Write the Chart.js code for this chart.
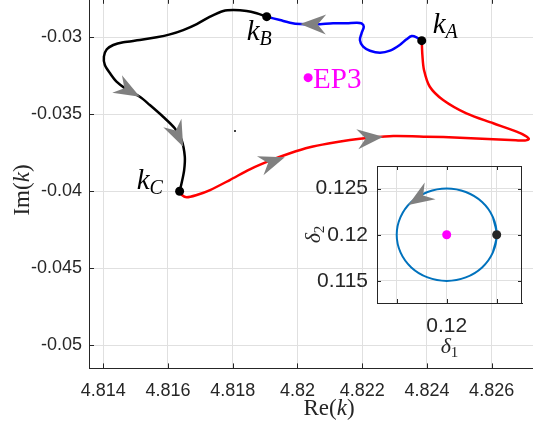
<!DOCTYPE html>
<html>
<head>
<meta charset="utf-8">
<script src="https://cdn.jsdelivr.net/npm/chart.js@4.4.1/dist/chart.umd.min.js"></script>
<style>
  html, body { margin: 0; padding: 0; background: #fff; overflow: hidden; width: 533px; height: 427px; }
  #main { position: absolute; left: 0; top: -10px; }
  #inset { position: absolute; left: 290px; top: 150px; }
</style>
</head>
<body>
<canvas id="main" width="600" height="440" style="width:600px;height:440px"></canvas>
<canvas id="inset" width="243" height="230" style="width:243px;height:230px"></canvas>
<script>
// ---- main axes: Re(k) / Im(k) ----
const reTicks = [4.814, 4.816, 4.818, 4.82, 4.822, 4.824, 4.826];
const reTickLabels = ['4.814', '4.816', '4.818', '4.82', '4.822', '4.824', '4.826'];
const imTicks = [-0.05, -0.045, -0.04, -0.035, -0.03];
const imTickLabels = ['-0.05', '-0.045', '-0.04', '-0.035', '-0.03'];

// marked eigenvalues
const kA = [4.82384, -0.03022];
const kB = [4.81905, -0.02866];
const kC = [4.81636, -0.04000];
const ep3 = [4.82033, -0.03262];
const strayMark = [4.81807, -0.03608];

// trajectory kA -> kB (blue)
const pathAB = [
  [4.82384, -0.03022], [4.82368, -0.03000], [4.82353, -0.02992], [4.82337, -0.03013],
  [4.82316, -0.03050], [4.82286, -0.03087], [4.82255, -0.03100], [4.82224, -0.03087],
  [4.82203, -0.03061], [4.82193, -0.03018], [4.82198, -0.02974], [4.82205, -0.02931],
  [4.82198, -0.02909], [4.82183, -0.02905], [4.82152, -0.02909], [4.82110, -0.02909],
  [4.82059, -0.02916], [4.82008, -0.02914], [4.81977, -0.02905], [4.81946, -0.02888],
  [4.81905, -0.02866]
];
// trajectory kB -> kC (black)
const pathBC = [
  [4.81905, -0.02866], [4.81874, -0.02844], [4.81843, -0.02829], [4.81802, -0.02823],
  [4.81771, -0.02829], [4.81730, -0.02866], [4.81689, -0.02914], [4.81647, -0.02953],
  [4.81606, -0.02981], [4.81565, -0.03000], [4.81513, -0.03018], [4.81462, -0.03032],
  [4.81431, -0.03050], [4.81411, -0.03078], [4.81402, -0.03126], [4.81405, -0.03180],
  [4.81421, -0.03234], [4.81441, -0.03288], [4.81472, -0.03338], [4.81513, -0.03386],
  [4.81544, -0.03440], [4.81585, -0.03516], [4.81621, -0.03591], [4.81642, -0.03667],
  [4.81652, -0.03775], [4.81650, -0.03862], [4.81642, -0.03948], [4.81636, -0.04000]
];
// trajectory kC -> kA (red)
const pathCA = [
  [4.81636, -0.04000], [4.81643, -0.04024], [4.81658, -0.04039], [4.81689, -0.04024],
  [4.81730, -0.03992], [4.81791, -0.03927], [4.81853, -0.03857], [4.81915, -0.03801],
  [4.81977, -0.03753], [4.82038, -0.03714], [4.82100, -0.03688], [4.82162, -0.03667],
  [4.82224, -0.03652], [4.82296, -0.03641], [4.82399, -0.03645], [4.82502, -0.03652],
  [4.82605, -0.03662], [4.82675, -0.03669], [4.82703, -0.03670], [4.82715, -0.03659],
  [4.82703, -0.03638], [4.82677, -0.03613], [4.82605, -0.03558], [4.82522, -0.03494],
  [4.82450, -0.03407], [4.82409, -0.03321], [4.82391, -0.03212], [4.82386, -0.03115],
  [4.82384, -0.03022]
];
// direction markers along the trajectory: head position and a point behind it
const arrowMarks = [
  { at: [4.82008, -0.02914], from: [4.82059, -0.02916] },
  { at: [4.81513, -0.03386], from: [4.81472, -0.03338] },
  { at: [4.81647, -0.03710], from: [4.81621, -0.03591] },
  { at: [4.81961, -0.03779], from: [4.81853, -0.03857] },
  { at: [4.82265, -0.03645], from: [4.82162, -0.03667] }
];

// ---- inset: parameter loop in (delta1, delta2) ----
const d1Ticks = [0.115, 0.12, 0.125];
const d1TickLabels = ['', '0.12', ''];
const d2Ticks = [0.115, 0.12, 0.125];
const d2TickLabels = ['0.115', '0.12', '0.125'];
const loopPath = [
  [0.12462, 0.11809], [0.12500, 0.12000], [0.12462, 0.12191], [0.12354, 0.12354],
  [0.12191, 0.12462], [0.12000, 0.12500], [0.11809, 0.12462], [0.11646, 0.12354],
  [0.11538, 0.12191], [0.11500, 0.12000], [0.11538, 0.11809], [0.11646, 0.11646],
  [0.11809, 0.11538], [0.12000, 0.11500], [0.12191, 0.11538], [0.12354, 0.11646],
  [0.12462, 0.11809], [0.12500, 0.12000], [0.12462, 0.12191]
];
const loopStart = [0.125, 0.12];
const loopCentre = [0.12, 0.12];
const loopArrow = { at: [0.11616, 0.12321], from: [0.11833, 0.12473] };

const toXY = arr => arr.map(p => ({ x: p[0], y: p[1] }));
const INK = '#262626';
const GRID = '#e0e0e0';
const SANS = '"Liberation Sans", Arial, sans-serif';
const SERIF = '"Liberation Serif", "Times New Roman", serif';

function arrowHead(ctx, tx, ty, fx, fy, len, half, notch, color) {
  const dx = tx - fx, dy = ty - fy;
  const n = Math.hypot(dx, dy) || 1;
  const ux = dx / n, uy = dy / n, px = -uy, py = ux;
  const bx = tx - ux * len, by = ty - uy * len;
  ctx.beginPath();
  ctx.moveTo(tx, ty);
  ctx.lineTo(bx + px * half, by + py * half);
  ctx.lineTo(tx - ux * len * notch, ty - uy * len * notch);
  ctx.lineTo(bx - px * half, by - py * half);
  ctx.closePath();
  ctx.fillStyle = color;
  ctx.fill();
}

// text made of roman / italic pieces, each piece: [text, italic, sizeScale, baselineShift]
function mixedWidth(ctx, parts, size) {
  let w = 0;
  parts.forEach(p => {
    ctx.font = (p[1] ? 'italic ' : '') + Math.round(size * (p[2] || 1)) + 'px ' + SERIF;
    w += ctx.measureText(p[0]).width;
  });
  return w;
}
function drawMixed(ctx, parts, x, y, size, color) {
  ctx.fillStyle = color;
  ctx.textAlign = 'left';
  ctx.textBaseline = 'alphabetic';
  let cx = x;
  parts.forEach(p => {
    ctx.font = (p[1] ? 'italic ' : '') + Math.round(size * (p[2] || 1)) + 'px ' + SERIF;
    ctx.fillText(p[0], cx, y + (p[3] || 0));
    cx += ctx.measureText(p[0]).width;
  });
}

function squareAxes(scale, w, h) {
  if (w !== undefined) scale.width = w;
  if (h !== undefined) scale.height = h;
  scale.paddingLeft = 0; scale.paddingRight = 0; scale.paddingTop = 0; scale.paddingBottom = 0;
}

function boxAndTicks(ctx, area, xs, ys, xt, yt, len) {
  const { left, right, top, bottom } = area;
  ctx.strokeStyle = INK;
  ctx.lineWidth = 1;
  ctx.beginPath();
  ctx.moveTo(left, Math.round(top) + 0.5); ctx.lineTo(right, Math.round(top) + 0.5);
  ctx.moveTo(Math.round(right) - 0.5, top); ctx.lineTo(Math.round(right) - 0.5, bottom);
  xt.forEach(v => {
    const p = Math.round(xs.getPixelForValue(v)) + 0.5;
    ctx.moveTo(p, bottom); ctx.lineTo(p, bottom - len);
    ctx.moveTo(p, top); ctx.lineTo(p, top + len);
  });
  yt.forEach(v => {
    const p = Math.round(ys.getPixelForValue(v)) + 0.5;
    ctx.moveTo(left, p); ctx.lineTo(left + len, p);
    ctx.moveTo(right, p); ctx.lineTo(right - len, p);
  });
  ctx.stroke();
}

const mainDecor = {
  id: 'mainDecor',
  afterDatasetsDraw(chart) {
    const { ctx, scales: { x, y } } = chart;
    ctx.save();
    arrowMarks.forEach(a => arrowHead(ctx,
      x.getPixelForValue(a.at[0]), y.getPixelForValue(a.at[1]),
      x.getPixelForValue(a.from[0]), y.getPixelForValue(a.from[1]),
      26, 10, 0.68, '#808080'));
    ctx.restore();
  },
  afterDraw(chart) {
    const { ctx, chartArea, scales: { x, y } } = chart;
    ctx.save();
    boxAndTicks(ctx, chartArea, x, y, reTicks, imTicks, 5);

    // point names
    const names = [
      { at: kA, sub: 'A', dx: 11, dy: -8 },
      { at: kB, sub: 'B', dx: -20, dy: 23 },
      { at: kC, sub: 'C', dx: -43, dy: -2 }
    ];
    names.forEach(n => {
      const px = x.getPixelForValue(n.at[0]) + n.dx;
      const py = y.getPixelForValue(n.at[1]) + n.dy;
      drawMixed(ctx, [['k', true, 1, 0], [n.sub, true, 0.68, 5]], px, py, 29, '#000');
    });
    const ex = x.getPixelForValue(ep3[0]) + 5;
    const ey = y.getPixelForValue(ep3[1]) + 10;
    drawMixed(ctx, [['EP3', false, 1, 0]], ex, ey, 29, '#ff00ff');

    // axis titles
    const reParts = [['Re(', false], ['k', true], [')', false]];
    const rw = mixedWidth(ctx, reParts, 23);
    drawMixed(ctx, reParts, 329 - rw / 2, 425, 23, INK);
    const imParts = [['Im(', false], ['k', true], [')', false]];
    const iw = mixedWidth(ctx, imParts, 23);
    ctx.translate(29, 200);
    ctx.rotate(-Math.PI / 2);
    drawMixed(ctx, imParts, -iw / 2, 0, 23, INK);
    ctx.restore();
  }
};

new Chart(document.getElementById('main'), {
  type: 'scatter',
  data: {
    datasets: [
      { data: toXY([kA, kB, kC]), pointRadius: 4.5, pointBackgroundColor: '#000', pointBorderWidth: 0, showLine: false, order: 0 },
      { data: toXY([ep3]), pointRadius: 4.5, pointBackgroundColor: '#ff00ff', pointBorderWidth: 0, showLine: false, order: 0 },
      { data: toXY([strayMark]), pointRadius: 1, pointBackgroundColor: '#000', pointBorderWidth: 0, showLine: false, order: 0 },
      { data: toXY(pathAB), showLine: true, borderColor: '#0000ff', borderWidth: 2.5, pointRadius: 0, tension: 0.3, order: 2 },
      { data: toXY(pathBC), showLine: true, borderColor: '#000000', borderWidth: 2.5, pointRadius: 0, tension: 0.3, order: 2 },
      { data: toXY(pathCA), showLine: true, borderColor: '#ff0000', borderWidth: 2.5, pointRadius: 0, tension: 0.3, order: 2 }
    ]
  },
  options: {
    responsive: false,
    animation: false,
    events: [],
    layout: { padding: { left: 0, top: 8.8, right: 31, bottom: 0 }, autoPadding: false },
    plugins: { legend: { display: false }, tooltip: { enabled: false } },
    scales: {
      x: {
        type: 'linear', min: 4.81356, max: 4.82839,
        grid: { color: GRID, lineWidth: 1, drawTicks: false },
        border: { display: true, color: INK, width: 1 },
        ticks: {
          font: { family: SANS, size: 18 }, color: INK, padding: 12, maxRotation: 0, autoSkip: false,
          callback: (v, i) => reTickLabels[i]
        },
        afterBuildTicks: s => { s.ticks = reTicks.map(v => ({ value: v })); },
        afterFit: s => squareAxes(s, undefined, 61.6)
      },
      y: {
        type: 'linear', min: -0.0515, max: -0.0275,
        grid: { color: GRID, lineWidth: 1, drawTicks: false },
        border: { display: true, color: INK, width: 1 },
        ticks: {
          font: { family: SANS, size: 18 }, color: INK, padding: 7, autoSkip: false,
          callback: (v, i) => imTickLabels[i]
        },
        afterBuildTicks: s => { s.ticks = imTicks.map(v => ({ value: v })); },
        afterFit: s => squareAxes(s, 89, undefined)
      }
    }
  },
  plugins: [mainDecor]
});

const insetDecor = {
  id: 'insetDecor',
  afterDatasetsDraw(chart) {
    const { ctx, scales: { x, y } } = chart;
    ctx.save();
    arrowHead(ctx,
      x.getPixelForValue(loopArrow.at[0]), y.getPixelForValue(loopArrow.at[1]),
      x.getPixelForValue(loopArrow.from[0]), y.getPixelForValue(loopArrow.from[1]),
      26, 10, 0.68, '#808080');
    ctx.restore();
  },
  afterDraw(chart) {
    const { ctx, chartArea, scales: { x, y } } = chart;
    ctx.save();
    boxAndTicks(ctx, chartArea, x, y, d1Ticks, d2Ticks, 4);
    const p1 = [['δ', true, 1, 0], ['1', false, 0.7, 4]];
    const w1 = mixedWidth(ctx, p1, 22);
    drawMixed(ctx, p1, (chartArea.left + chartArea.right) / 2 - w1 / 2, 203, 22, INK);
    const p2 = [['δ', true, 1, 0], ['2', false, 0.7, 4]];
    const w2 = mixedWidth(ctx, p2, 22);
    ctx.translate(30, (chartArea.top + chartArea.bottom) / 2);
    ctx.rotate(-Math.PI / 2);
    drawMixed(ctx, p2, -w2 / 2, 0, 22, INK);
    ctx.restore();
  }
};

new Chart(document.getElementById('inset'), {
  type: 'scatter',
  data: {
    datasets: [
      { data: toXY([loopStart]), pointRadius: 4.5, pointBackgroundColor: '#262626', pointBorderWidth: 0, showLine: false, order: 0 },
      { data: toXY([loopCentre]), pointRadius: 4.5, pointBackgroundColor: '#ff00ff', pointBorderWidth: 0, showLine: false, order: 0 },
      { data: toXY(loopPath), showLine: true, borderColor: '#0072bd', borderWidth: 2, pointRadius: 0, tension: 0.35, order: 2 }
    ]
  },
  options: {
    responsive: false,
    animation: false,
    events: [],
    layout: { padding: { left: 0, top: 16, right: 11, bottom: 0 }, autoPadding: false },
    plugins: { legend: { display: false }, tooltip: { enabled: false } },
    scales: {
      x: {
        type: 'linear', min: 0.11303, max: 0.12753,
        grid: { color: GRID, lineWidth: 1, drawTicks: false },
        border: { display: true, color: INK, width: 1 },
        ticks: {
          font: { family: SANS, size: 21 }, color: INK, padding: 11, maxRotation: 0, autoSkip: false,
          callback: (v, i) => d1TickLabels[i]
        },
        afterBuildTicks: s => { s.ticks = d1Ticks.map(v => ({ value: v })); },
        afterFit: s => squareAxes(s, undefined, 77)
      },
      y: {
        type: 'linear', min: 0.11261, max: 0.12744,
        grid: { color: GRID, lineWidth: 1, drawTicks: false },
        border: { display: true, color: INK, width: 1 },
        ticks: {
          font: { family: SANS, size: 21 }, color: INK, padding: 9, autoSkip: false,
          callback: (v, i) => d2TickLabels[i]
        },
        afterBuildTicks: s => { s.ticks = d2Ticks.map(v => ({ value: v })); },
        afterFit: s => squareAxes(s, 87, undefined)
      }
    }
  },
  plugins: [insetDecor]
});
</script>
</body>
</html>
